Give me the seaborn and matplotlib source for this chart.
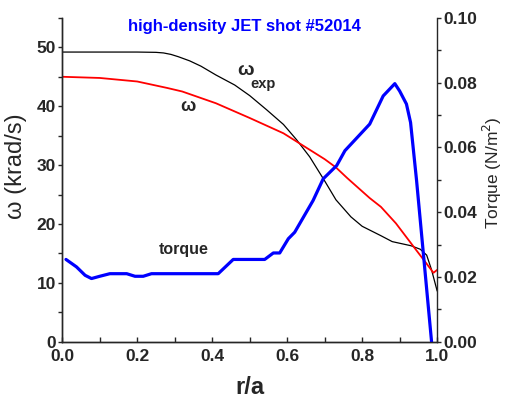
import seaborn as sns
import matplotlib.pyplot as plt
import pandas as pd
from matplotlib.ticker import MultipleLocator

sns.set_style("ticks")
plt.rcParams['font.family'] = ['Liberation Sans', 'DejaVu Sans']

# measured rotation profile (black)
r_exp = [0.0, 0.1, 0.2, 0.25, 0.27, 0.29, 0.31, 0.34, 0.37, 0.41, 0.46, 0.5, 0.545,
         0.59, 0.625, 0.66, 0.7, 0.73, 0.77, 0.8, 0.85, 0.88, 0.93, 0.955, 0.972,
         0.985, 1.0]
w_exp = [49.2, 49.2, 49.2, 49.15, 49.05, 48.8, 48.4, 47.7, 46.8, 45.3, 43.6, 41.8,
         39.4, 36.9, 34.3, 31.4, 27.3, 24.1, 21.2, 19.6, 18.0, 17.0, 16.3, 15.7,
         14.7, 12.2, 8.6]

# modelled rotation profile (red)
r_w = [0.0, 0.1, 0.2, 0.28, 0.32, 0.41, 0.5, 0.59, 0.63, 0.7, 0.73, 0.76, 0.82,
       0.85, 0.89, 0.94, 0.97, 0.99, 1.0]
w_mod = [45.0, 44.8, 44.2, 43.1, 42.5, 40.5, 38.0, 35.4, 33.8, 31.0, 29.6, 27.8, 24.4,
         22.9, 20.1, 15.9, 13.4, 11.7, 12.2]

# torque profile (blue, right axis)
r_t = [0.01, 0.038, 0.061, 0.078, 0.1, 0.127, 0.172, 0.194, 0.216, 0.238, 0.416,
       0.456, 0.54, 0.563, 0.58, 0.603, 0.62, 0.669, 0.696, 0.732, 0.754, 0.82,
       0.856, 0.887, 0.9, 0.918, 0.929, 0.945, 0.985]
torque = [0.0254, 0.0231, 0.0205, 0.0195, 0.0202, 0.0210, 0.0210, 0.0202, 0.0202,
          0.0210, 0.0210, 0.0254, 0.0254, 0.0274, 0.0274, 0.0318, 0.0338, 0.0436,
          0.0503, 0.0544, 0.0590, 0.0672, 0.0759, 0.0797, 0.0774, 0.0734, 0.0677,
          0.0498, 0.0]

df_exp = pd.DataFrame({"r": r_exp, "w": w_exp})
df_mod = pd.DataFrame({"r": r_w, "w": w_mod})
df_t = pd.DataFrame({"r": r_t, "torque": torque})

fig = plt.figure(figsize=(5.06, 3.98), dpi=100)
ax = fig.add_axes([0.123, 0.1415, 0.741, 0.8135])
ax2 = ax.twinx()

sns.lineplot(data=df_exp, x="r", y="w", ax=ax, color="black", lw=0.9, sort=False)
sns.lineplot(data=df_mod, x="r", y="w", ax=ax, color="#ff0000", lw=1.3, sort=False)
sns.lineplot(data=df_t, x="r", y="torque", ax=ax2, color="#0000ff", lw=2.3, sort=False)

ax.set_xlim(0, 1.0)
ax.set_ylim(0, 55)
ax2.set_ylim(0, 0.1)

ax.xaxis.set_major_locator(MultipleLocator(0.2))
ax.xaxis.set_minor_locator(MultipleLocator(0.1))
ax.yaxis.set_major_locator(MultipleLocator(10))
ax.yaxis.set_minor_locator(MultipleLocator(5))
ax2.yaxis.set_major_locator(MultipleLocator(0.02))
ax2.yaxis.set_minor_locator(MultipleLocator(0.01))
ax.xaxis.set_major_formatter(plt.FormatStrFormatter("%.1f"))
ax2.yaxis.set_major_formatter(plt.FormatStrFormatter("%.2f"))

for a in (ax, ax2):
    a.spines["top"].set_visible(False)
    for s in a.spines.values():
        s.set_linewidth(1.0)
ax.spines["right"].set_visible(False)

ax.tick_params(axis="x", which="both", direction="in", length=3.5, width=1, pad=5)
ax.tick_params(axis="y", which="both", direction="out", length=3, width=1, pad=1.5)
ax2.tick_params(axis="y", which="both", direction="out", length=3, width=1, pad=1.5)
for lab in ax.get_xticklabels() + ax.get_yticklabels() + ax2.get_yticklabels():
    lab.set_fontsize(12.5)
    lab.set_fontweight("bold")

ax.set_xlabel("r/a", fontsize=17, fontweight="bold")
ax.xaxis.set_label_coords(0.5, -0.105)
ax.set_ylabel("\u03c9 (krad/s)", fontsize=17)
ax.yaxis.set_label_coords(-0.094, 0.543)
ax2.set_ylabel("Torque (N/m$^2$)", fontsize=12.5)
ax2.yaxis.set_label_coords(1.117, 0.521)

ax.text(0.487, 0.975, "high-density JET shot #52014", transform=ax.transAxes,
        color="#0000ff", fontsize=12, fontweight="bold", ha="center", va="center")
ax.text(0.336, 1.0 - (107 - 18) / 323.7, "\u03c9", transform=ax.transAxes,
        fontsize=13, fontweight="bold", ha="center", va="center")
ax.text(0.490, 1.0 - (71 - 18) / 323.7, "\u03c9", transform=ax.transAxes,
        fontsize=14, fontweight="bold", ha="center", va="center")
ax.text(0.535, 1.0 - (84 - 18) / 323.7, "exp", transform=ax.transAxes,
        fontsize=10.5, fontweight="bold", ha="center", va="center")
ax.text(0.325, 1.0 - (250 - 18) / 323.7, "torque", transform=ax.transAxes,
        fontsize=11.5, fontweight="bold", ha="center", va="center")

fig.savefig("out.png", dpi=100)
plt.close()
